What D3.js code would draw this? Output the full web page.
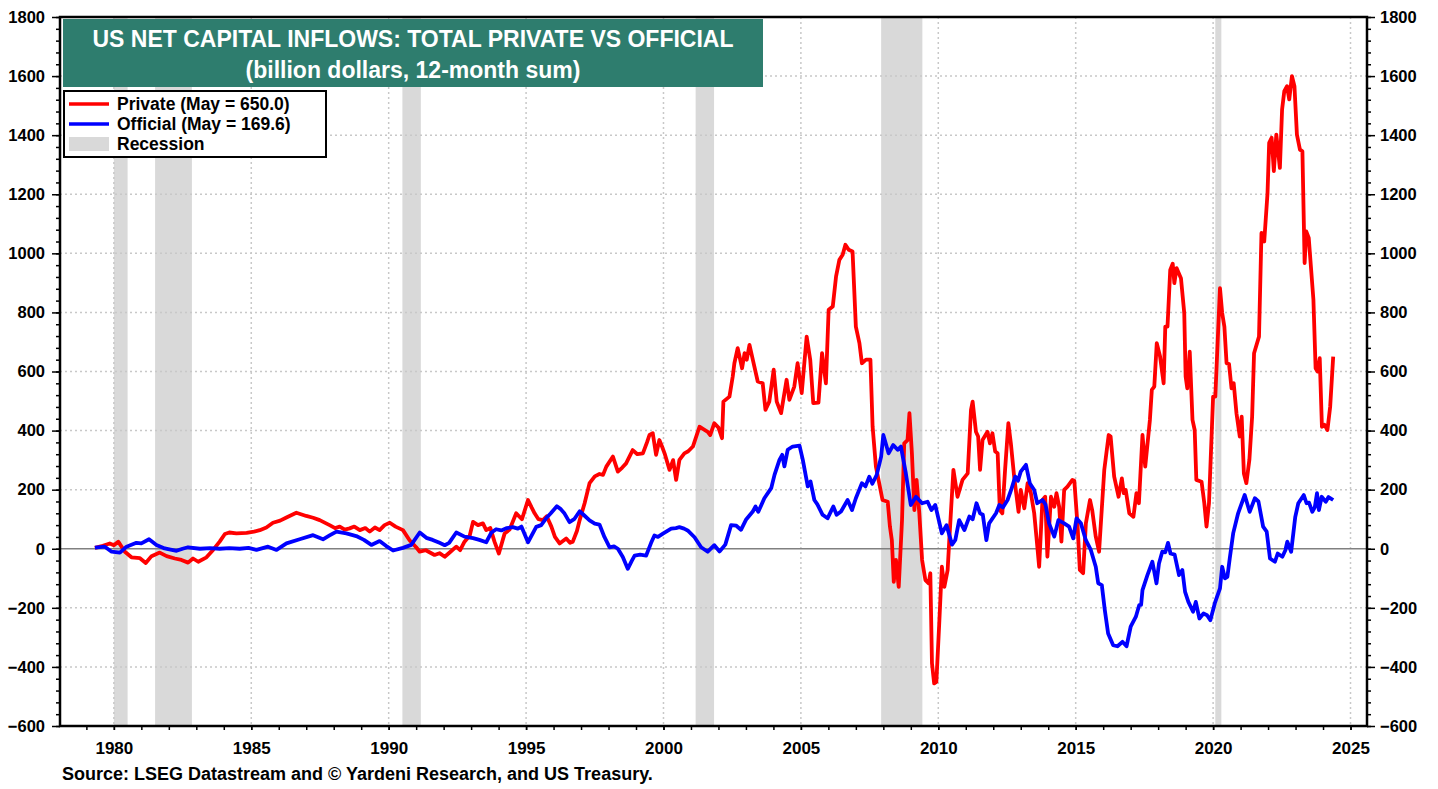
<!DOCTYPE html>
<html lang="en">
<head>
<meta charset="UTF-8" />
<script src="https://d3js.org/d3.v7.min.js"></script>
<title>US Net Capital Inflows</title>
<style>
    body { margin: 0; background: #fff; }
    text { font-family: Arial, "Liberation Sans", Helvetica, sans-serif; font-weight: bold; }
    .grid line { stroke: #c8c8c8; stroke-width: 1.5; stroke-dasharray: 2 3; }
    .series { fill: none; stroke-width: 3.8; stroke-linejoin: round; }
</style>
</head>
<body>
<svg id="chart" width="1438" height="789"></svg>
<script>
// ---- data: [year, billion $] ----
const privateFlows = [
    [1979.31, 3], [1979.6, 10], [1979.85, 18], [1980.0, 12], [1980.16, 24], [1980.4, -10], [1980.64, -29],
    [1980.95, -32], [1981.16, -48], [1981.37, -25], [1981.67, -13], [1981.92, -25], [1982.22, -33], [1982.46, -38],
    [1982.7, -47], [1982.88, -33], [1983.07, -44], [1983.37, -29], [1983.61, -4], [1983.85, 24], [1984.04, 50],
    [1984.2, 55], [1984.46, 52], [1984.83, 54], [1985.1, 58], [1985.31, 63], [1985.55, 72], [1985.79, 88],
    [1986.05, 95], [1986.28, 106], [1986.64, 122], [1987.0, 111], [1987.25, 105], [1987.49, 97], [1987.85, 80],
    [1988.05, 70], [1988.22, 75], [1988.4, 65], [1988.58, 69], [1988.75, 75], [1988.95, 63], [1989.15, 70],
    [1989.31, 58], [1989.5, 72], [1989.67, 63], [1989.85, 80], [1990.04, 88], [1990.25, 75], [1990.52, 63],
    [1990.76, 29], [1991.0, 5], [1991.13, -10], [1991.35, -5], [1991.67, -21], [1991.85, -15], [1992.04, -27],
    [1992.25, -10], [1992.46, 7], [1992.6, -5], [1992.76, 24], [1992.95, 45], [1993.07, 91], [1993.25, 80],
    [1993.43, 86], [1993.55, 63], [1993.7, 70], [1993.85, 24], [1994.01, -16], [1994.22, 52], [1994.4, 65],
    [1994.64, 120], [1994.85, 100], [1995.07, 165], [1995.2, 140], [1995.31, 120], [1995.45, 100], [1995.61, 97],
    [1995.75, 110], [1995.92, 75], [1996.05, 40], [1996.22, 18], [1996.46, 35], [1996.6, 20], [1996.7, 24],
    [1996.85, 60], [1996.95, 97], [1997.13, 154], [1997.31, 222], [1997.5, 245], [1997.67, 253], [1997.8, 250],
    [1997.92, 278], [1998.16, 312], [1998.34, 261], [1998.5, 275], [1998.64, 289], [1998.88, 334], [1999.05, 320],
    [1999.25, 323], [1999.4, 360], [1999.49, 385], [1999.61, 391], [1999.73, 318], [1999.85, 368], [1999.95, 345],
    [2000.04, 323], [2000.22, 267], [2000.35, 300], [2000.46, 233], [2000.58, 301], [2000.76, 323], [2000.9, 330],
    [2001.07, 346], [2001.31, 413], [2001.45, 405], [2001.61, 396], [2001.7, 385], [2001.85, 425], [2002.0, 410],
    [2002.13, 374], [2002.18, 498], [2002.4, 515], [2002.52, 583], [2002.58, 628], [2002.7, 679], [2002.86, 611],
    [2002.95, 662], [2003.03, 640], [2003.13, 690], [2003.25, 640], [2003.43, 566], [2003.61, 560], [2003.71, 470],
    [2003.85, 498], [2004.01, 606], [2004.12, 498], [2004.28, 459], [2004.48, 572], [2004.58, 504], [2004.76, 549],
    [2004.88, 628], [2005.03, 527], [2005.21, 718], [2005.34, 640], [2005.45, 493], [2005.64, 495], [2005.77, 662],
    [2005.91, 560], [2006.01, 809], [2006.16, 820], [2006.28, 922], [2006.4, 978], [2006.52, 995], [2006.62, 1029],
    [2006.74, 1012], [2006.88, 1006], [2007.0, 752], [2007.13, 696], [2007.22, 628], [2007.37, 640], [2007.53, 640],
    [2007.61, 413], [2007.73, 278], [2007.97, 165], [2008.16, 159], [2008.24, 75], [2008.31, 29], [2008.38, -112],
    [2008.46, -38], [2008.56, -129], [2008.68, 97], [2008.76, 357], [2008.88, 368], [2008.95, 459], [2009.04, 323],
    [2009.13, 131], [2009.21, 233], [2009.31, 120], [2009.41, -38], [2009.53, -106], [2009.65, -117], [2009.71, -83],
    [2009.77, -388], [2009.85, -456], [2009.93, -451], [2010.04, -242], [2010.13, -61], [2010.22, -129], [2010.34, -72],
    [2010.4, 29], [2010.55, 267], [2010.7, 176], [2010.88, 233], [2011.07, 255], [2011.19, 470], [2011.25, 498],
    [2011.37, 396], [2011.45, 380], [2011.52, 267], [2011.61, 368], [2011.79, 396], [2011.88, 357], [2011.97, 391],
    [2012.07, 329], [2012.16, 323], [2012.24, 131], [2012.33, 120], [2012.43, 267], [2012.55, 425], [2012.64, 357],
    [2012.76, 244], [2012.92, 125], [2013.0, 199], [2013.13, 137], [2013.25, 222], [2013.37, 188], [2013.49, 120],
    [2013.57, 41], [2013.67, -61], [2013.79, 165], [2013.89, 176], [2013.97, -27], [2014.1, 176], [2014.22, 142],
    [2014.3, 188], [2014.4, 142], [2014.48, 24], [2014.58, 199], [2014.7, 210], [2014.88, 233], [2014.95, 230],
    [2015.07, 75], [2015.15, -72], [2015.27, -83], [2015.37, 86], [2015.52, 165], [2015.6, 131], [2015.73, 41],
    [2015.85, -10], [2015.97, 165], [2016.04, 267], [2016.2, 385], [2016.27, 380], [2016.4, 244], [2016.56, 176],
    [2016.68, 238], [2016.75, 188], [2016.82, 199], [2016.95, 120], [2017.1, 108], [2017.21, 188], [2017.3, 154],
    [2017.43, 385], [2017.53, 278], [2017.7, 436], [2017.77, 538], [2017.86, 549], [2017.95, 696], [2018.07, 651],
    [2018.2, 560], [2018.26, 752], [2018.34, 752], [2018.44, 944], [2018.53, 965], [2018.59, 899], [2018.67, 950],
    [2018.83, 916], [2018.95, 798], [2019.0, 583], [2019.06, 543], [2019.15, 667], [2019.25, 436], [2019.33, 402],
    [2019.39, 233], [2019.58, 227], [2019.68, 154], [2019.76, 75], [2019.85, 154], [2020.0, 515], [2020.08, 515],
    [2020.25, 882], [2020.33, 798], [2020.41, 752], [2020.49, 628], [2020.58, 625], [2020.67, 543], [2020.75, 560],
    [2020.85, 459], [2020.97, 380], [2021.04, 447], [2021.12, 255], [2021.21, 222], [2021.32, 301], [2021.42, 447],
    [2021.49, 662], [2021.67, 718], [2021.76, 1069], [2021.86, 1040], [2021.98, 1204], [2022.04, 1374], [2022.13, 1391],
    [2022.21, 1278], [2022.3, 1402], [2022.43, 1289], [2022.51, 1487], [2022.59, 1549], [2022.69, 1566], [2022.77, 1521],
    [2022.87, 1600], [2022.96, 1566], [2023.05, 1402], [2023.16, 1351], [2023.25, 1345], [2023.33, 967], [2023.39, 1074],
    [2023.48, 1052], [2023.65, 843], [2023.73, 611], [2023.8, 600], [2023.88, 645], [2023.96, 413], [2024.05, 420],
    [2024.16, 402], [2024.26, 481], [2024.37, 650]
];

const officialFlows = [
    [1979.31, 4], [1979.67, 7], [1979.92, -10], [1980.22, -13], [1980.46, 7], [1980.82, 20], [1981.0, 18],
    [1981.28, 32], [1981.55, 13], [1981.85, 1], [1982.28, -7], [1982.5, 0], [1982.7, 5], [1983.13, 0],
    [1983.5, 2], [1983.85, 0], [1984.2, 2], [1984.58, 0], [1984.9, 3], [1985.19, -4], [1985.61, 7],
    [1985.92, -4], [1986.28, 18], [1986.76, 32], [1987.25, 46], [1987.61, 32], [1987.85, 45], [1988.1, 58],
    [1988.46, 52], [1988.82, 43], [1989.1, 30], [1989.37, 13], [1989.67, 26], [1989.9, 10], [1990.16, -6],
    [1990.52, 3], [1990.82, 13], [1991.13, 55], [1991.37, 37], [1991.6, 30], [1991.85, 20], [1992.04, 12],
    [1992.2, 20], [1992.46, 55], [1992.76, 41], [1993.07, 36], [1993.3, 30], [1993.55, 22], [1993.73, 54],
    [1993.91, 66], [1994.1, 62], [1994.3, 70], [1994.52, 73], [1994.7, 68], [1994.83, 75], [1995.07, 22],
    [1995.37, 74], [1995.55, 80], [1995.73, 103], [1995.9, 120], [1996.12, 144], [1996.25, 135], [1996.4, 119],
    [1996.58, 90], [1996.75, 100], [1996.95, 127], [1997.15, 110], [1997.31, 96], [1997.5, 85], [1997.67, 82],
    [1997.85, 40], [1998.04, 5], [1998.2, 8], [1998.34, 0], [1998.52, -28], [1998.7, -68], [1998.85, -40],
    [1998.95, -23], [1999.15, -20], [1999.37, -23], [1999.55, 20], [1999.67, 45], [1999.8, 40], [1999.98, 51],
    [2000.28, 68], [2000.45, 70], [2000.58, 73], [2000.75, 68], [2000.88, 62], [2001.13, 39], [2001.37, 5],
    [2001.61, -10], [2001.85, 12], [2002.04, -9], [2002.25, 14], [2002.46, 80], [2002.65, 78], [2002.82, 64],
    [2003.0, 98], [2003.25, 126], [2003.35, 143], [2003.45, 125], [2003.67, 171], [2003.92, 205], [2004.04, 250],
    [2004.22, 301], [2004.32, 318], [2004.4, 279], [2004.52, 335], [2004.7, 346], [2004.95, 349], [2005.07, 301],
    [2005.25, 211], [2005.35, 228], [2005.49, 165], [2005.6, 150], [2005.79, 115], [2005.97, 103], [2006.18, 143],
    [2006.3, 115], [2006.46, 126], [2006.7, 165], [2006.86, 131], [2007.0, 171], [2007.22, 222], [2007.35, 211],
    [2007.49, 244], [2007.6, 220], [2007.76, 250], [2007.92, 312], [2008.0, 385], [2008.19, 323], [2008.36, 351],
    [2008.52, 335], [2008.64, 346], [2008.82, 255], [2009.0, 148], [2009.19, 176], [2009.41, 154], [2009.61, 159],
    [2009.75, 131], [2009.89, 148], [2010.13, 52], [2010.3, 80], [2010.5, 14], [2010.62, 30], [2010.76, 97],
    [2010.95, 63], [2011.13, 109], [2011.25, 100], [2011.39, 154], [2011.52, 120], [2011.62, 115], [2011.75, 29],
    [2011.85, 86], [2012.1, 120], [2012.22, 148], [2012.35, 140], [2012.52, 165], [2012.65, 199], [2012.8, 244],
    [2012.9, 230], [2013.0, 261], [2013.19, 284], [2013.33, 222], [2013.49, 199], [2013.6, 154], [2013.79, 165],
    [2013.9, 150], [2014.03, 86], [2014.22, 41], [2014.37, 97], [2014.58, 86], [2014.76, 75], [2014.91, 35],
    [2015.03, 103], [2015.19, 86], [2015.37, 29], [2015.55, -4], [2015.73, -61], [2015.82, -117], [2015.95, -123],
    [2016.06, -208], [2016.18, -287], [2016.36, -326], [2016.52, -330], [2016.7, -315], [2016.85, -330], [2017.0, -264],
    [2017.19, -230], [2017.31, -191], [2017.38, -190], [2017.43, -140], [2017.61, -89], [2017.79, -44], [2017.94, -117],
    [2018.03, -50], [2018.15, -10], [2018.26, -12], [2018.36, 20], [2018.45, -16], [2018.6, -20], [2018.76, -89],
    [2018.88, -72], [2018.98, -146], [2019.1, -180], [2019.27, -213], [2019.37, -180], [2019.5, -236], [2019.65, -219],
    [2019.78, -225], [2019.9, -242], [2020.06, -185], [2020.25, -134], [2020.33, -61], [2020.43, -100], [2020.52, -95],
    [2020.61, -30], [2020.73, 52], [2020.91, 120], [2021.15, 182], [2021.33, 125], [2021.52, 171], [2021.65, 160],
    [2021.82, 75], [2021.95, 58], [2022.07, -33], [2022.25, -44], [2022.35, -16], [2022.52, -27], [2022.63, -5],
    [2022.7, 24], [2022.84, -10], [2022.99, 108], [2023.1, 154], [2023.3, 182], [2023.4, 154], [2023.49, 156],
    [2023.61, 125], [2023.7, 140], [2023.78, 188], [2023.85, 131], [2023.95, 176], [2024.1, 159], [2024.2, 175],
    [2024.37, 165]
];

// recessions as [start, end] in fractional years
const recessions = [[1980.0, 1980.5], [1981.5, 1982.84], [1990.5, 1991.17], [2001.17, 2001.84], [2007.92, 2009.42], [2020.08, 2020.3]];

const yTicks = [-600, -400, -200, 0, 200, 400, 600, 800, 1000, 1200, 1400, 1600, 1800];
const xTicks = [1980, 1985, 1990, 1995, 2000, 2005, 2010, 2015, 2020, 2025];

const titleLines = ["US NET CAPITAL INFLOWS: TOTAL PRIVATE VS OFFICIAL", "(billion dollars, 12-month sum)"];
const legendItems = [
    { label: "Private (May = 650.0)", color: "#ff0000", kind: "line" },
    { label: "Official (May = 169.6)", color: "#0000ff", kind: "line" },
    { label: "Recession", color: "#d9d9d9", kind: "box" }
];
const sourceText = "Source: LSEG Datastream and \u00A9 Yardeni Research, and US Treasury.";

// ---- setup ----
const svg = d3.select("#chart");
const plot = { left: 60, right: 1367, top: 17, bottom: 726 };

const x = d3.scaleLinear().domain([1978.04, 2025.6]).range([plot.left, plot.right]);
const y = d3.scaleLinear().domain([-600, 1800]).range([plot.bottom, plot.top]);

// recession shading
svg.append("g")
    .selectAll("rect")
    .data(recessions)
    .join("rect")
    .attr("x", d => x(d[0]))
    .attr("y", plot.top)
    .attr("width", d => x(d[1]) - x(d[0]))
    .attr("height", plot.bottom - plot.top)
    .attr("fill", "#d9d9d9");

// dotted grid
const grid = svg.append("g").attr("class", "grid");
grid.selectAll("line.h")
    .data(yTicks.filter(v => v !== 0 && v !== -600 && v !== 1800))
    .join("line")
    .attr("class", "h")
    .attr("x1", plot.left).attr("x2", plot.right)
    .attr("y1", d => y(d)).attr("y2", d => y(d));
grid.selectAll("line.v")
    .data(xTicks)
    .join("line")
    .attr("class", "v")
    .attr("y1", plot.top).attr("y2", plot.bottom)
    .attr("x1", d => x(d)).attr("x2", d => x(d));

// zero line
svg.append("line")
    .attr("x1", plot.left).attr("x2", plot.right)
    .attr("y1", y(0)).attr("y2", y(0))
    .attr("stroke", "#808080").attr("stroke-width", 1.5);

// series
const line = d3.line().x(d => x(d[0])).y(d => y(d[1]));
svg.append("path").datum(privateFlows).attr("class", "series").attr("stroke", "#ff0000").attr("d", line);
svg.append("path").datum(officialFlows).attr("class", "series").attr("stroke", "#0000ff").attr("d", line);

// axes
const minorY = d3.range(-600, 1801, 40);
const leftAxis = svg.append("g").attr("transform", `translate(${plot.left},0)`);
leftAxis.call(d3.axisLeft(y).tickValues(minorY).tickSize(4).tickFormat(""));
leftAxis.call(g => g.selectAll(".tick line").attr("stroke", "#000").attr("stroke-width", 1.5));
leftAxis.select(".domain").remove();
const leftMajor = svg.append("g").attr("transform", `translate(${plot.left},0)`)
    .call(d3.axisLeft(y).tickValues(yTicks).tickSize(8).tickPadding(7).tickFormat(d3.format("d")));
leftMajor.select(".domain").remove();
leftMajor.selectAll(".tick line").attr("stroke", "#000").attr("stroke-width", 1.5);

const rightAxis = svg.append("g").attr("transform", `translate(${plot.right},0)`);
rightAxis.call(d3.axisRight(y).tickValues(minorY).tickSize(4).tickFormat(""));
rightAxis.select(".domain").remove();
rightAxis.selectAll(".tick line").attr("stroke", "#000").attr("stroke-width", 1.5);
const rightMajor = svg.append("g").attr("transform", `translate(${plot.right},0)`)
    .call(d3.axisRight(y).tickValues(yTicks).tickSize(8).tickPadding(5).tickFormat(d3.format("d")));
rightMajor.select(".domain").remove();
rightMajor.selectAll(".tick line").attr("stroke", "#000").attr("stroke-width", 1.5);

const bottomMinor = svg.append("g").attr("transform", `translate(0,${plot.bottom})`)
    .call(d3.axisBottom(x).tickValues(d3.range(1979, 2026)).tickSize(4).tickFormat(""));
bottomMinor.select(".domain").remove();
bottomMinor.selectAll(".tick line").attr("stroke", "#000").attr("stroke-width", 1.5);
const bottomMajor = svg.append("g").attr("transform", `translate(0,${plot.bottom})`)
    .call(d3.axisBottom(x).tickValues(xTicks).tickSize(4).tickPadding(12).tickFormat(d3.format("d")));
bottomMajor.select(".domain").remove();
bottomMajor.selectAll(".tick line").attr("stroke", "#000").attr("stroke-width", 1.5);

svg.selectAll(".tick text")
    .attr("fill", "#000")
    .style("font-size", "16.5px")
    .style("font-family", "Arial, 'Liberation Sans', sans-serif")
    .style("font-weight", "bold");
bottomMajor.selectAll(".tick text").style("font-size", "17px");

// plot frame
svg.append("rect")
    .attr("x", plot.left).attr("y", plot.top)
    .attr("width", plot.right - plot.left).attr("height", plot.bottom - plot.top)
    .attr("fill", "none").attr("stroke", "#000").attr("stroke-width", 2.5);

// title box
const title = svg.append("g");
title.append("rect")
    .attr("x", 63).attr("y", 19).attr("width", 700).attr("height", 68)
    .attr("fill", "#2e7d6e");
title.selectAll("text")
    .data(titleLines)
    .join("text")
    .attr("x", 413)
    .attr("y", (d, i) => 47 + i * 31)
    .attr("text-anchor", "middle")
    .attr("fill", "#fff")
    .style("font-size", "23px")
    .text(d => d);

// legend
const legend = svg.append("g");
legend.append("rect")
    .attr("x", 64).attr("y", 91).attr("width", 262).attr("height", 66)
    .attr("fill", "#fff").attr("stroke", "#000").attr("stroke-width", 2);
const items = legend.selectAll("g.item")
    .data(legendItems)
    .join("g")
    .attr("class", "item")
    .attr("transform", (d, i) => `translate(69,${104 + i * 20})`);
items.filter(d => d.kind === "line").append("line")
    .attr("x1", 0).attr("x2", 40).attr("y1", 0).attr("y2", 0)
    .attr("stroke", d => d.color).attr("stroke-width", 3.5);
items.filter(d => d.kind === "box").append("rect")
    .attr("x", 0).attr("y", -7).attr("width", 40).attr("height", 14)
    .attr("fill", d => d.color);
items.append("text")
    .attr("x", 48).attr("y", 6)
    .style("font-size", "17.5px")
    .text(d => d.label);

// source note
svg.append("text")
    .attr("x", 62).attr("y", 780)
    .style("font-size", "18px")
    .text(sourceText);
</script>
</body>
</html>
